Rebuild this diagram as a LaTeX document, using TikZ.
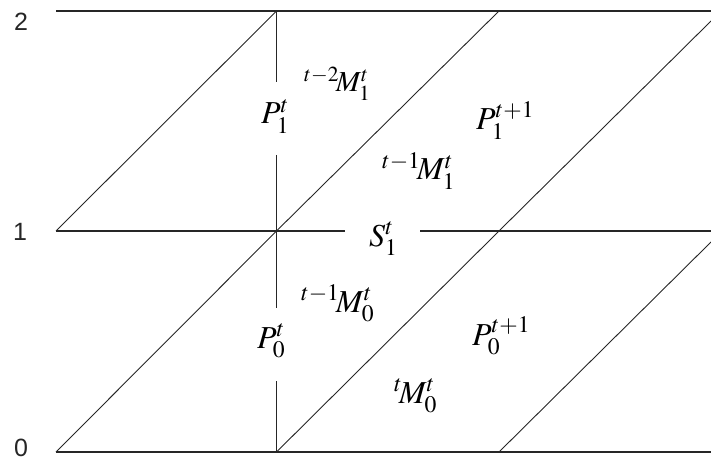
\documentclass[tikz,border=0pt]{standalone}
\usepackage{mathptmx}
\usepackage{fontspec}
\setsansfont{Liberation Sans}
\begin{document}
\begin{tikzpicture}[x=1pt,y=1pt,
  grid/.style={draw=black!85,line width=1.3pt},
  diag/.style={draw=black!85,line width=0.9pt},
  lvl/.style={font=\sffamily\fontsize{25}{28}\selectfont,text=black!85,inner sep=0pt},
  lab/.style={font=\fontsize{32}{36}\selectfont,inner sep=0pt,anchor=base west},
  labs/.style={font=\fontsize{29}{32}\selectfont,inner sep=0pt,anchor=base west}]
\useasboundingbox (0,0) rectangle (711,461);
% grid coordinates
\coordinate (A0) at (56,9);   \coordinate (A1) at (56,230);
\coordinate (B0) at (276.5,9);\coordinate (B1) at (276.5,230);\coordinate (B2) at (276.5,450);
\coordinate (C0) at (499,9);  \coordinate (C1) at (499,230);  \coordinate (C2) at (499,450);
\coordinate (A2) at (56,450);
\coordinate (R0) at (711,9);  \coordinate (R1) at (711,230);  \coordinate (R2) at (711,450);
\coordinate (D0) at (711,219);\coordinate (D1) at (711,440);
\coordinate (G1) at (345,230);\coordinate (G2) at (420,230);
\coordinate (V1) at (276.5,379);\coordinate (V2) at (276.5,306);
\coordinate (V3) at (276.5,153);\coordinate (V4) at (276.5,80);
% horizontal lines
\draw[grid] (A2) -- (R2);
\draw[grid] (A1) -- (G1);
\draw[grid] (G2) -- (R1);
\draw[grid] (A0) -- (R0);
% vertical line
\draw[grid] (B2) -- (V1);
\draw[grid] (V2) -- (V3);
\draw[grid] (V4) -- (B0);
% diagonals
\draw[diag] (A1) -- (B2);
\draw[diag] (A0) -- (B1);
\draw[diag] (B1) -- (C2);
\draw[diag] (B0) -- (C1);
\draw[diag] (C1) -- (D1);
\draw[diag] (C0) -- (D0);
% level labels
\node[lvl] (l2) at (21,439) {2};
\node[lvl] (l1) at (20,229) {1};
\node[lvl] (l0) at (21,13) {0};
% region labels
\node[lab]  (p1t)  at (261,337) {$P_{1}^{t}$};
\node[labs] (m12)  at (304,369) {${}^{t-2}\!M_{1}^{t}$};
\node[lab]  (m11)  at (382,281) {${}^{t-1}\!M_{1}^{t}$};
\node[lab]  (s1t)  at (369,215) {$S_{1}^{t}$};
\node[lab]  (p1t1) at (476,331) {$P_{1}^{t+1}$};
\node[lab]  (p0t)  at (257,113) {$P_{0}^{t}$};
\node[lab]  (m01)  at (301,149) {${}^{t-1}\!M_{0}^{t}$};
\node[lab]  (p0t1) at (472,116) {$P_{0}^{t+1}$};
\node[lab]  (m00)  at (394,58)  {${}^{t}\!M_{0}^{t}$};
\end{tikzpicture}
\end{document}
